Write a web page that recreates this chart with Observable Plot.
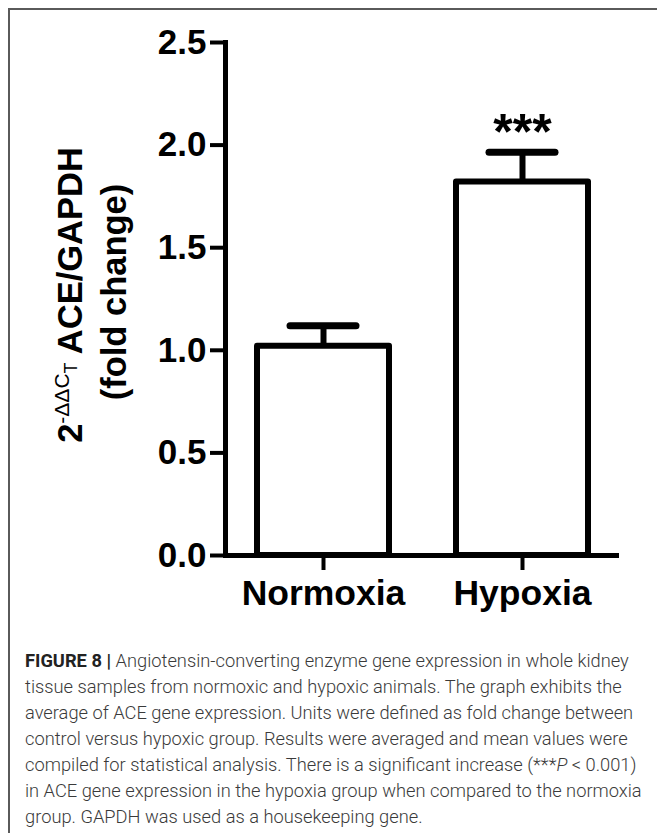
<!DOCTYPE html>
<html>
<head>
<meta charset="utf-8">
<script src="https://cdn.jsdelivr.net/npm/d3@7"></script>
<script src="https://cdn.jsdelivr.net/npm/@observablehq/plot@0.6"></script>
<style>
  html, body { margin: 0; padding: 0; background: #fff; width: 657px; height: 833px; overflow: hidden; }
  #frame { position: absolute; left: 8px; top: 8px; width: 649px; height: 825px;
           border-top: 2px solid #5a5a5a; border-left: 2px solid #5a5a5a; box-sizing: border-box; }
  #chart { position: absolute; left: 0; top: 0; }
  #caption { position: absolute; left: 25px; top: 648px; width: 630px;
             font-family: Roboto, "Liberation Sans", sans-serif; font-weight: 300;
             font-size: 18.3px; line-height: 26px; color: #3a3a3a; white-space: nowrap; }
  #caption b { font-weight: 700; color: #222; }
</style>
</head>
<body>
<div id="frame"></div>
<div id="chart"></div>
<div id="caption">
<div><b>FIGURE 8 |</b> Angiotensin-converting enzyme gene expression in whole kidney</div>
<div>tissue samples from normoxic and hypoxic animals. The graph exhibits the</div>
<div>average of ACE gene expression. Units were defined as fold change between</div>
<div>control versus hypoxic group. Results were averaged and mean values were</div>
<div>compiled for statistical analysis. There is a significant increase (***<i>P</i> &lt; 0.001)</div>
<div>in ACE gene expression in the hypoxia group when compared to the normoxia</div>
<div>group. GAPDH was used as a housekeeping gene.</div>
</div>
<script>
const categories = ["Normoxia", "Hypoxia"];
const means = [1.02, 1.82];
const errors = [0.10, 0.145];
const significance = ["", "***"];
const yTicks = [0, 0.5, 1.0, 1.5, 2.0, 2.5];

const data = categories.map((c, i) => ({category: c, mean: means[i], err: errors[i], top: means[i] + errors[i], sig: significance[i]}));

const chart = Plot.plot({
  width: 657,
  height: 630,
  marginLeft: 225,
  marginRight: 38,
  marginTop: 42,
  marginBottom: 75,
  style: {fontFamily: "'Liberation Sans', Arial, sans-serif", fontWeight: "bold", color: "black", background: "transparent", overflow: "visible"},
  x: {domain: categories, paddingInner: 0.337, paddingOuter: 0.158, label: null},
  y: {domain: [0, 2.5], label: null},
  marks: [
    Plot.barY(data, {x: "category", y: "mean", fill: "white", stroke: "black", strokeWidth: 6, strokeLinejoin: "round"}),
    Plot.ruleX(data, {x: "category", y1: "mean", y2: "top", stroke: "black", strokeWidth: 6}),
    Plot.tickY(data, {x: "category", y: "top", stroke: "black", strokeWidth: 7, strokeLinecap: "round", insetLeft: 33, insetRight: 33}),
    Plot.text(data, {x: "category", y: "top", text: "sig", dy: -19, fontSize: 50, fontWeight: "bold", fill: "black"}),
    Plot.ruleY([0], {stroke: "black", strokeWidth: 5}),
    Plot.frame({anchor: "left", stroke: "black", strokeWidth: 5}),
    Plot.axisY({ticks: yTicks, tickFormat: d => d.toFixed(1), tickSize: 15, tickPadding: 4, fontSize: 35, strokeWidth: 4, label: null}),
    Plot.axisX({tickSize: 15, tickPadding: 9, fontSize: 35.5, strokeWidth: 4, label: null})
  ]
});
document.getElementById("chart").appendChild(chart);

// y-axis title with superscript/subscript
const svg = d3.select(chart);
const g = svg.append("g").attr("font-family", "'Liberation Sans', Arial, sans-serif").attr("fill", "black");
const t1 = g.append("text").attr("transform", "translate(82,295) rotate(-90)").attr("text-anchor", "middle")
  .attr("font-size", 34.5).attr("font-weight", "bold");
t1.append("tspan").text("2");
t1.append("tspan").attr("font-size", 21).attr("font-weight", "normal").attr("dy", -13).text("-ΔΔC");
t1.append("tspan").attr("font-size", 18).attr("font-weight", "normal").attr("dy", 8).text("T");
t1.append("tspan").attr("dy", 5).text(" ACE/GAPDH");
g.append("text").attr("transform", "translate(126,292) rotate(-90)").attr("text-anchor", "middle")
  .attr("font-size", 34.5).attr("font-weight", "bold").text("(fold change)");
</script>
</body>
</html>
